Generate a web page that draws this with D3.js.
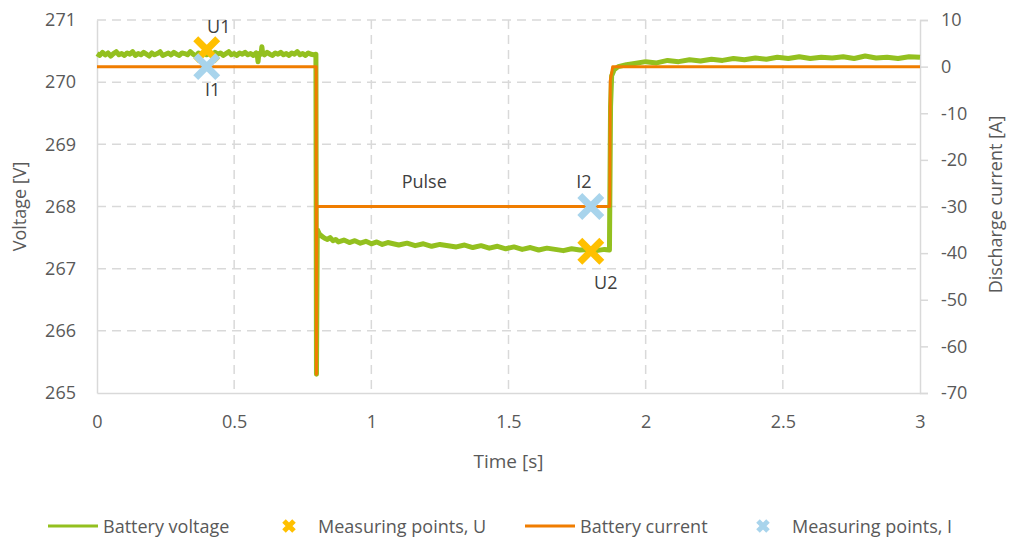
<!DOCTYPE html>
<html>
<head>
<meta charset="utf-8">
<script src="https://cdn.jsdelivr.net/npm/d3@7"></script>
<style>
  body { margin: 0; background: #fff; }
  svg { font-family: "Open Sans", Lato, sans-serif; }
</style>
</head>
<body>
<svg id="chart" width="1009" height="537"></svg>
<script>
// voltage samples [s] and [V], before the pulse
const timeV1 = [0, 0.01, 0.02, 0.03, 0.04, 0.05, 0.06, 0.07, 0.08, 0.09, 0.10, 0.11, 0.12, 0.13, 0.14, 0.15,
  0.16, 0.17, 0.18, 0.19, 0.20, 0.21, 0.22, 0.23, 0.24, 0.25, 0.26, 0.27, 0.28, 0.29, 0.30, 0.31, 0.32, 0.33,
  0.34, 0.35, 0.36, 0.37, 0.38, 0.39, 0.40, 0.41, 0.42, 0.43, 0.44, 0.45, 0.46, 0.47, 0.48, 0.49, 0.50, 0.51,
  0.52, 0.53, 0.54, 0.55, 0.56, 0.57, 0.58, 0.584, 0.587, 0.59, 0.598, 0.601, 0.604, 0.61, 0.62, 0.63, 0.64,
  0.65, 0.66, 0.67, 0.68, 0.69, 0.70, 0.71, 0.72, 0.73, 0.74, 0.75, 0.76, 0.77, 0.78, 0.79, 0.798];
const voltage1 = [270.46, 270.43, 270.48, 270.44, 270.47, 270.42, 270.46, 270.49, 270.44, 270.46, 270.43, 270.47,
  270.45, 270.49, 270.43, 270.46, 270.44, 270.48, 270.45, 270.42, 270.47, 270.44, 270.46, 270.49, 270.43, 270.45,
  270.47, 270.44, 270.48, 270.45, 270.43, 270.47, 270.46, 270.44, 270.49, 270.45, 270.42, 270.47, 270.45, 270.48,
  270.44, 270.46, 270.43, 270.48, 270.45, 270.47, 270.43, 270.46, 270.49, 270.44, 270.46, 270.43, 270.47, 270.45,
  270.48, 270.44, 270.46, 270.43, 270.47, 270.45, 270.33, 270.46, 270.45, 270.57, 270.46, 270.44, 270.48, 270.45,
  270.43, 270.47, 270.45, 270.48, 270.44, 270.46, 270.43, 270.47, 270.45, 270.49, 270.44, 270.46, 270.43, 270.47,
  270.45, 270.44, 270.45];

// voltage samples during and after the pulse
const timeV2 = [
  0.80, 0.803, 0.81, 0.82, 0.83, 0.84, 0.85, 0.86, 0.87, 0.88,
  0.90, 0.92, 0.94, 0.96, 0.98, 1.00, 1.02, 1.04, 1.06, 1.08,
  1.10, 1.13, 1.16, 1.19, 1.22, 1.25, 1.28, 1.31, 1.34, 1.37,
  1.40, 1.43, 1.46, 1.49, 1.52, 1.55, 1.58, 1.61, 1.64, 1.67,
  1.70, 1.73, 1.76, 1.79, 1.82, 1.85, 1.868, 1.872, 1.876, 1.885,
  1.90, 1.93, 1.96, 2.00, 2.04, 2.08, 2.12, 2.16, 2.20, 2.24,
  2.28, 2.32, 2.36, 2.40, 2.44, 2.48, 2.52, 2.56, 2.60, 2.64,
  2.68, 2.72, 2.76, 2.80, 2.84, 2.88, 2.92, 2.96, 3.00];
const voltage2 = [
  265.3, 267.63, 267.56, 267.52, 267.49, 267.47, 267.50, 267.45, 267.47, 267.43,
  267.46, 267.42, 267.45, 267.41, 267.44, 267.40, 267.43, 267.39, 267.42, 267.40,
  267.38, 267.41, 267.37, 267.40, 267.36, 267.39, 267.37, 267.35, 267.38, 267.34,
  267.37, 267.33, 267.36, 267.32, 267.35, 267.31, 267.34, 267.30, 267.33, 267.31,
  267.29, 267.32, 267.30, 267.31, 267.29, 267.31, 267.30, 269.6, 270.1, 270.2,
  270.25, 270.28, 270.30, 270.33, 270.31, 270.35, 270.33, 270.36, 270.34, 270.37,
  270.35, 270.38, 270.36, 270.39, 270.37, 270.40, 270.38, 270.41, 270.38, 270.40,
  270.39, 270.41, 270.38, 270.42, 270.39, 270.40, 270.38, 270.41, 270.40];

// current samples [s] and [A]
const timeI = [0, 0.799, 0.8, 0.801, 1.869, 1.871, 1.88, 3];
const current = [0, 0, -66, -30, -30, -3, 0, 0];

// measuring points
const pointsU = [{t: 0.4, v: 270.52, label: "U1"}, {t: 1.8, v: 267.28, label: "U2"}];
const pointsI = [{t: 0.4, a: 0, label: "I1"}, {t: 1.8, a: -30, label: "I2"}];

const xTicks = [0, 0.5, 1, 1.5, 2, 2.5, 3];
const vTicks = [265, 266, 267, 268, 269, 270, 271];
const iTicks = [-70, -60, -50, -40, -30, -20, -10, 0, 10];

const legendItems = ["Battery voltage", "Measuring points, U", "Battery current", "Measuring points, I"];

const cGreen = "#93c01f", cOrange = "#f07d00", cYellow = "#ffc000", cBlue = "#a8d4ec";
const cGrid = "#d9d9d9", cText = "#595959";

const margin = {top: 20, right: 89, bottom: 144, left: 97};
const width = 1009 - margin.left - margin.right;
const height = 537 - margin.top - margin.bottom;

const svg = d3.select("#chart");
const g = svg.append("g").attr("transform", `translate(${margin.left},${margin.top})`);

const x = d3.scaleLinear().domain([0, 3]).range([0, width]);
const yV = d3.scaleLinear().domain([265, 271]).range([height, 0]);
const yI = d3.scaleLinear().domain([-70, 10]).range([height, 0]);

// gridlines
g.append("g").selectAll("line")
  .data(vTicks.filter(d => d > 265))
  .join("line")
  .attr("x1", 0).attr("x2", width)
  .attr("y1", d => yV(d)).attr("y2", d => yV(d))
  .attr("stroke", cGrid).attr("stroke-width", 1.5).attr("stroke-dasharray", "9,6");

g.append("g").selectAll("line")
  .data(xTicks.filter(d => d > 0 && d < 3))
  .join("line")
  .attr("x1", d => x(d)).attr("x2", d => x(d))
  .attr("y1", 0).attr("y2", height)
  .attr("stroke", cGrid).attr("stroke-width", 1.5).attr("stroke-dasharray", "9,6");

// axes
const axL = g.append("g")
  .call(d3.axisLeft(yV).tickValues(vTicks).tickSize(0).tickPadding(21).tickFormat(d => String(d)));
const axB = g.append("g").attr("transform", `translate(0,${height})`)
  .call(d3.axisBottom(x).tickValues(xTicks).tickSize(0).tickPadding(22).tickFormat(d => String(d)));
const axR = g.append("g").attr("transform", `translate(${width},0)`)
  .call(d3.axisRight(yI).tickValues(iTicks).tickSize(8).tickPadding(13).tickFormat(d => String(d)));

[axL, axB, axR].forEach(a => {
  a.select(".domain").attr("stroke", cGrid).attr("stroke-width", 1.5);
  a.selectAll(".tick line").attr("stroke", cGrid).attr("stroke-width", 1.5);
  a.selectAll("text").attr("fill", cText).attr("font-size", 18).attr("font-family", "'Open Sans', sans-serif");
});
axR.selectAll("text").attr("text-anchor", "start");

// series
const voltData = timeV1.concat(timeV2).map((t, i) => [t, voltage1.concat(voltage2)[i]]);
const currData = timeI.map((t, i) => [t, current[i]]);

g.append("path")
  .datum(voltData)
  .attr("fill", "none")
  .attr("stroke", cGreen)
  .attr("stroke-width", 5)
  .attr("stroke-linejoin", "round")
  .attr("d", d3.line().x(d => x(d[0])).y(d => yV(d[1])));

const cross = s => `M${-s},${-s}L${s},${s}M${-s},${s}L${s},${-s}`;

g.selectAll(".ptU")
  .data(pointsU)
  .join("path")
  .attr("class", "ptU")
  .attr("transform", d => `translate(${x(d.t)},${yV(d.v)})`)
  .attr("d", cross(11))
  .attr("stroke", cYellow).attr("stroke-width", 7).attr("fill", "none");

g.append("path")
  .datum(currData)
  .attr("fill", "none")
  .attr("stroke", cOrange)
  .attr("stroke-width", 3)
  .attr("stroke-linejoin", "round")
  .attr("d", d3.line().x(d => x(d[0])).y(d => yI(d[1])));

g.selectAll(".ptI")
  .data(pointsI)
  .join("path")
  .attr("class", "ptI")
  .attr("transform", d => `translate(${x(d.t)},${yI(d.a)})`)
  .attr("d", cross(11))
  .attr("stroke", cBlue).attr("stroke-width", 7).attr("fill", "none");

// point labels
const labelStyle = sel => sel.attr("fill", "#404040").attr("font-size", 18).attr("text-anchor", "middle");
g.append("text").call(labelStyle).attr("x", x(0.4) + 12).attr("y", yV(270.52) - 17).text("U1");
g.append("text").call(labelStyle).attr("x", x(0.4) + 6).attr("y", yI(0) + 29).text("I1");
g.append("text").call(labelStyle).attr("x", x(1.8) - 7).attr("y", yI(-30) - 19).text("I2");
g.append("text").call(labelStyle).attr("x", x(1.8) + 15).attr("y", yV(267.28) + 38).text("U2");
g.append("text").call(labelStyle).attr("x", x(1.2) - 2).attr("y", yI(-30) - 19).text("Pulse");

// axis titles
svg.append("text")
  .attr("transform", `translate(26,${margin.top + height / 2}) rotate(-90)`)
  .attr("text-anchor", "middle").attr("fill", cText).attr("font-size", 18)
  .text("Voltage [V]");
svg.append("text")
  .attr("transform", `translate(1002,${margin.top + height / 2 - 2}) rotate(-90)`)
  .attr("text-anchor", "middle").attr("fill", cText).attr("font-size", 18)
  .text("Discharge current [A]");
svg.append("text")
  .attr("x", margin.left + x(1.5)).attr("y", 468)
  .attr("text-anchor", "middle").attr("fill", cText).attr("font-size", 19)
  .text("Time [s]");

// legend
const legend = svg.append("g").attr("transform", "translate(0,526)");
const legendPos = [48, 277, 525, 751];
legendItems.forEach((name, i) => {
  const lg = legend.append("g").attr("transform", `translate(${legendPos[i]},0)`);
  if (i % 2 === 0) {
    lg.append("line").attr("x1", 0).attr("x2", 50).attr("y1", 0).attr("y2", 0)
      .attr("stroke", i === 0 ? cGreen : cOrange).attr("stroke-width", 3);
    lg.append("text").attr("x", 55).attr("y", 7).attr("fill", cText).attr("font-size", 18).text(name);
  } else {
    lg.append("path").attr("transform", "translate(12,0)").attr("d", cross(5))
      .attr("stroke", i === 1 ? cYellow : cBlue).attr("stroke-width", 5).attr("fill", "none");
    lg.append("text").attr("x", 41).attr("y", 7).attr("fill", cText).attr("font-size", 18).text(name);
  }
});
</script>
</body>
</html>
